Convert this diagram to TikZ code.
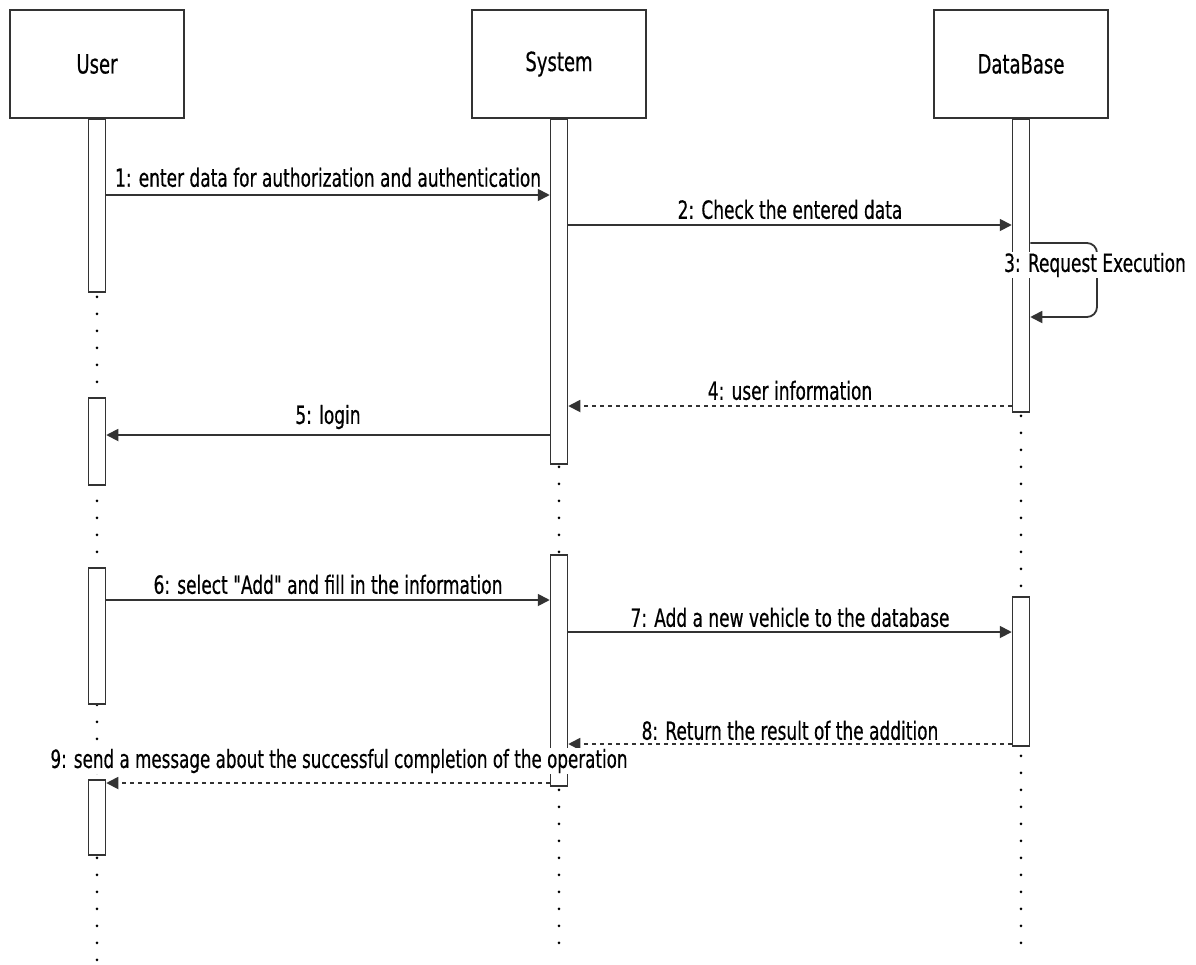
\documentclass[tikz,border=0pt]{standalone}
\usepackage{fontspec}
% plain family without TeX ligatures, so straight quotes stay straight
\newfontfamily\diagfont{DejaVu Sans}[FakeStretch=0.68,FakeBold=0.5]
\usetikzlibrary{arrows.meta}
\begin{document}
\begin{tikzpicture}[x=1pt,y=-1pt,
  actor/.style={draw=black!80,line width=1.8pt,fill=white,minimum width=174pt,minimum height=108pt,inner sep=0pt,font=\diagfont\fontsize{26.5}{30}\selectfont},
  bar/.style={draw=black!80,line width=1.5pt,fill=white,minimum width=17pt,inner sep=0pt,anchor=north},
  life/.style={line width=2.9pt,dash pattern=on 0pt off 17pt,line cap=round,black},
  msg/.style={line width=1.8pt,black!80,-{Triangle[length=12pt,width=12pt]}},
  reply/.style={msg,dash pattern=on 4pt off 4pt},
  lbl/.style={font=\diagfont\fontsize{25}{27}\selectfont,inner sep=1pt,text=black}]
\useasboundingbox (0,0) rectangle (1196,964);

% participants
\node[actor] (user) at (97,64) {User};
\node[actor] (sys) at (559,64) {System};
\node[actor] (db) at (1021,64) {DataBase};

% lifelines
\coordinate (uEnd) at (97,964);
\coordinate (sEnd) at (559,958);
\coordinate (dEnd) at (1021,948);
\draw[life] (user.south) ++(0,8) -- (uEnd);
\draw[life] (sys.south) ++(0,8) -- (sEnd);
\draw[life] (db.south) ++(0,8) -- (dEnd);

% activation bars
\node[bar,minimum height=173pt] (u1) at (97,118) {};
\node[bar,minimum height=87pt] (u2) at (97,397) {};
\node[bar,minimum height=136pt] (u3) at (97,567) {};
\node[bar,minimum height=75pt] (u4) at (97,779) {};
\node[bar,minimum height=345pt] (s1) at (559,118) {};
\node[bar,minimum height=231pt] (s2) at (559,554) {};
\node[bar,minimum height=293pt] (d1) at (1021,118) {};
\node[bar,minimum height=149pt] (d2) at (1021,596) {};

% messages
\draw[msg] (u1.east |- 0,195) -- node[lbl,above=6pt] {1: enter data for authorization and authentication} (s1.west |- 0,195);
\draw[msg] (s1.east |- 0,225) -- node[lbl,above=4pt] {2: Check the entered data} (d1.west |- 0,225);
\draw[msg,rounded corners=10pt] (d1.east |- 0,243) -- (1097,243) -- (1097,317) -- (d1.east |- 0,317);
\node[lbl,fill=white] (l3) at (1095,265) {3: Request Execution};
\draw[reply] (d1.west |- 0,406) -- node[lbl,above=4pt] {4: user information} (s1.east |- 0,406);
\draw[msg] (s1.west |- 0,435) -- node[lbl,above=4pt] {5: login} (u2.east |- 0,435);
\draw[msg] (u3.east |- 0,600) -- node[lbl,above=4pt] {6: select "Add" and fill in the information} (s2.west |- 0,600);
\draw[msg] (s2.east |- 0,632) -- node[lbl,above=3pt] {7: Add a new vehicle to the database} (d2.west |- 0,632);
\draw[reply] (d2.west |- 0,744) -- node[lbl,above=2pt] {8: Return the result of the addition} (s2.east |- 0,744);
\draw[reply] (s2.west |- 0,783) -- (u4.east |- 0,783);
\node[lbl,fill=white,xscale=0.985] (l9) at (339,761) {9: send a message about the successful completion of the operation};
\end{tikzpicture}
\end{document}
